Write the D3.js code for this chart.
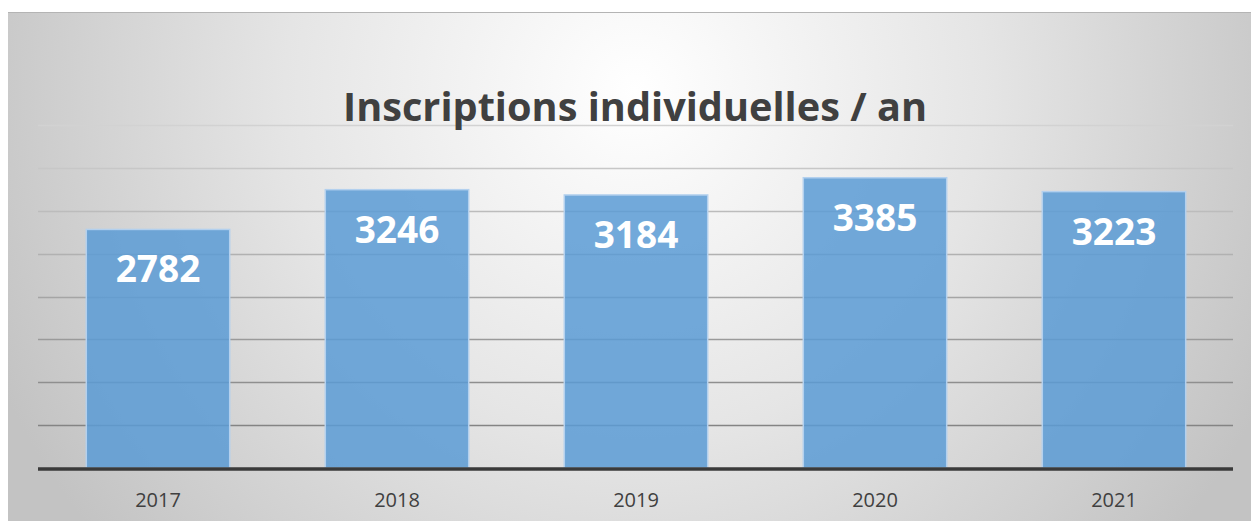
<!DOCTYPE html>
<html>
<head>
<meta charset="utf-8">
<script src="https://cdn.jsdelivr.net/npm/d3@7"></script>
<style>
  body { margin: 0; background: #fff; }
</style>
</head>
<body>
<div id="vis"></div>
<script>
const width = 1251
const height = 521

const years = ["2017", "2018", "2019", "2020", "2021"]
const inscriptions = [2782, 3246, 3184, 3385, 3223]
const gridValues = [500, 1000, 1500, 2000, 2500, 3000, 3500, 4000]
const title = "Inscriptions individuelles / an"

const data = years.map((y, i) => ({ year: y, value: inscriptions[i] }))

const svg = d3.select("#vis")
    .append("svg")
    .attr("width", width)
    .attr("height", height)

// background: radial grey gradient, lighter round the title
const defs = svg.append("defs")
const bg = defs.append("radialGradient")
    .attr("id", "bg")
    .attr("gradientUnits", "userSpaceOnUse")
    .attr("cx", 635).attr("cy", 90)
    .attr("r", 700)
bg.append("stop").attr("offset", "0").attr("stop-color", "#ffffff")
bg.append("stop").attr("offset", "0.5").attr("stop-color", "#e5e5e5")
bg.append("stop").attr("offset", "1").attr("stop-color", "#c3c3c3")

svg.append("rect")
    .attr("x", 8).attr("y", 12)
    .attr("width", width - 8).attr("height", height - 12)
    .attr("fill", "url(#bg)")

svg.append("line")
    .attr("x1", 8).attr("x2", width)
    .attr("y1", 12.5).attr("y2", 12.5)
    .attr("stroke", "#b4b4b4")
    .attr("stroke-width", 1)

const x = d3.scaleBand()
    .domain(years)
    .range([38.5, 1233.5])
    .paddingInner(0.4)
    .paddingOuter(0.2)

const y = d3.scaleLinear()
    .domain([0, 4000])
    .range([468, 125])

// gridlines get darker toward the bottom, as in the original
const gridColor = d3.scaleLinear()
    .domain([4000, 500])
    .range(["#d2d2d2", "#848484"])

svg.append("g")
    .selectAll("line")
    .data(gridValues)
    .join("line")
    .attr("x1", 38).attr("x2", 1233)
    .attr("y1", d => Math.round(y(d)) + 0.5)
    .attr("y2", d => Math.round(y(d)) + 0.5)
    .attr("stroke", d => gridColor(d))
    .attr("stroke-width", 1.5)

svg.append("g")
    .selectAll("rect")
    .data(data)
    .join("rect")
    .attr("x", d => x(d.year))
    .attr("y", d => y(d.value))
    .attr("width", x.bandwidth())
    .attr("height", d => y(0) - y(d.value))
    .attr("fill", "#5b9bd5")
    .attr("fill-opacity", 0.85)
    .attr("stroke", "#b3d0ee")
    .attr("stroke-width", 1.5)

// baseline
svg.append("line")
    .attr("x1", 38).attr("x2", 1233)
    .attr("y1", y(0) + 1).attr("y2", y(0) + 1)
    .attr("stroke", "#3a3a3a")
    .attr("stroke-width", 3.5)

// value labels inside bars
svg.append("g")
    .selectAll("text")
    .data(data)
    .join("text")
    .attr("x", d => x(d.year) + x.bandwidth() / 2)
    .attr("y", d => y(d.value) + 53)
    .attr("text-anchor", "middle")
    .attr("font-family", "'Open Sans', sans-serif")
    .attr("font-weight", "bold")
    .attr("font-size", "37px")
    .attr("fill", "#ffffff")
    .text(d => d.value)

// category labels
svg.append("g")
    .selectAll("text")
    .data(years)
    .join("text")
    .attr("x", d => x(d) + x.bandwidth() / 2)
    .attr("y", 507)
    .attr("text-anchor", "middle")
    .attr("font-family", "'Open Sans', sans-serif")
    .attr("font-size", "20px")
    .attr("fill", "#404040")
    .text(d => d)

svg.append("text")
    .attr("x", 635)
    .attr("y", 121)
    .attr("text-anchor", "middle")
    .attr("font-family", "'Open Sans', sans-serif")
    .attr("font-weight", "bold")
    .attr("font-size", "39px")
    .attr("fill", "#404040")
    .attr("textLength", 584)
    .attr("lengthAdjust", "spacingAndGlyphs")
    .text(title)
</script>
</body>
</html>
